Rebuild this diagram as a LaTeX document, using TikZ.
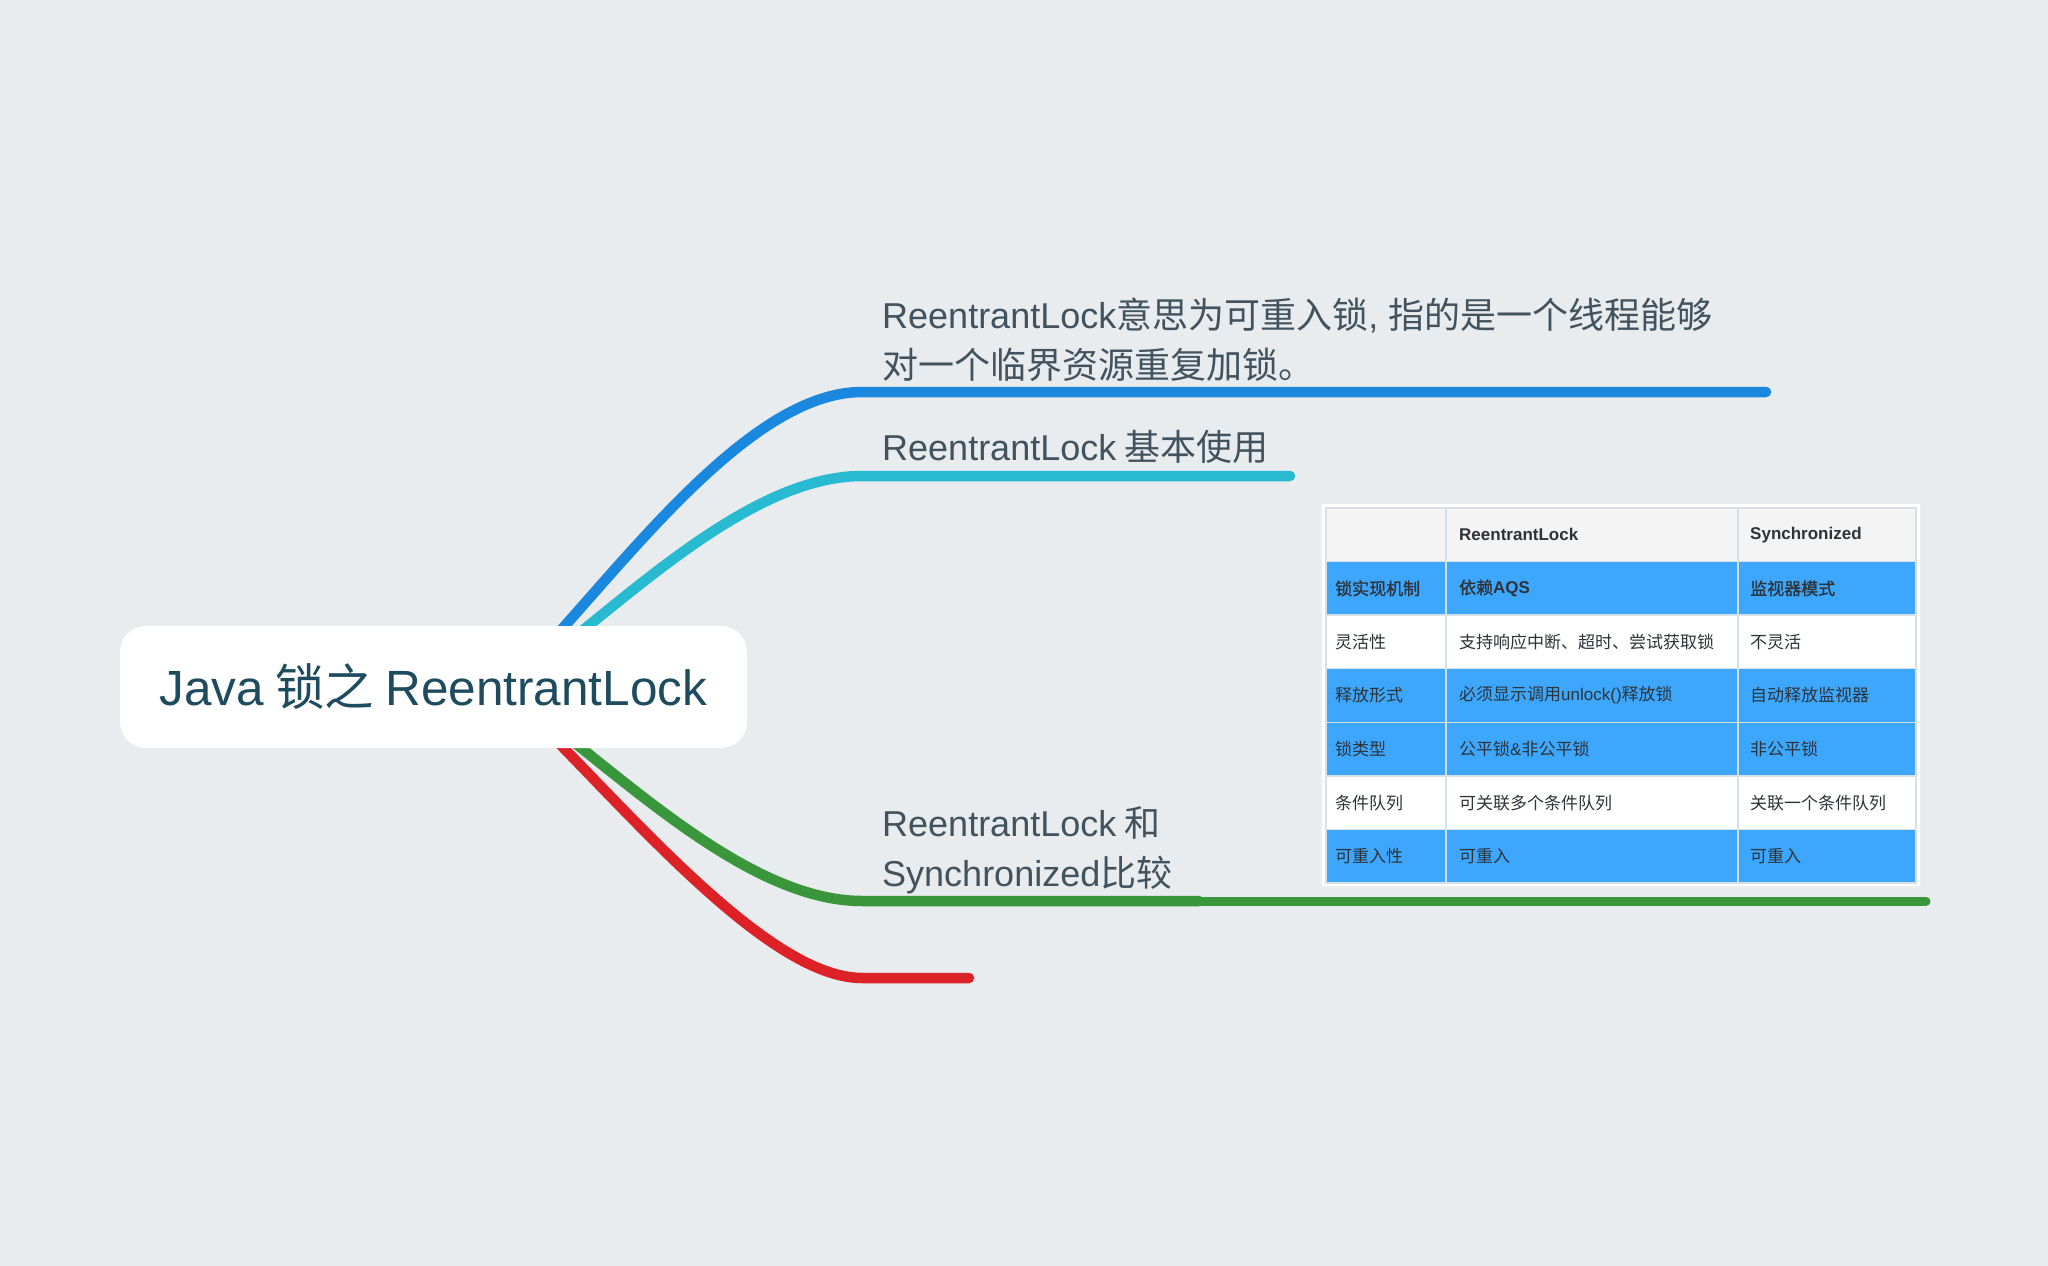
\documentclass[tikz,border=0pt]{standalone}
\usepackage{fontspec}
\setmainfont{Noto Sans CJK SC}
\newfontfamily\lat{Liberation Sans}
\newfontfamily\cjkb[FakeBold=1.2]{Noto Sans CJK SC}
\definecolor{bgc}{HTML}{E8ECEF}
\definecolor{cblue}{HTML}{1A88DE}
\definecolor{ccyan}{HTML}{27BAD1}
\definecolor{cgreen}{HTML}{3A963A}
\definecolor{cred}{HTML}{DC2127}
\definecolor{txtgray}{HTML}{42535F}
\definecolor{roottxt}{HTML}{1E4B5E}
\definecolor{tblue}{HTML}{3DA7FE}
\definecolor{hgray}{HTML}{F4F4F4}
\definecolor{gridc}{HTML}{D8E0E7}
\definecolor{celltxt}{HTML}{2E3338}
\begin{document}
\begin{tikzpicture}[x=1pt,y=-1pt,
  branch/.style={line width=10.5pt, line cap=round},
  btext/.style={anchor=west, inner sep=0pt, text=txtgray, font=\fontsize{36}{50}\selectfont, align=left},
  cell/.style={anchor=west, inner sep=0pt, text=celltxt, font=\fontsize{17}{20}\selectfont},
  bcell/.style={cell, font=\cjkb\fontsize{17}{20}\selectfont},
  hcell/.style={cell, font=\lat\bfseries\fontsize{17}{20}\selectfont},
  rootbox/.style={fill=white, rounded corners=26pt, minimum width=627pt, minimum height=122pt, inner sep=0pt, text=roottxt, font=\fontsize{49.5}{56}\selectfont}
]
\useasboundingbox (0,0) rectangle (2048,1266);
\fill[bgc] (0,0) rectangle (2048,1266);

% branch anchor points
\coordinate (o) at (505,690);
\coordinate (b1) at (862,392); \coordinate (b1e) at (1766,392);
\coordinate (b2) at (862,476); \coordinate (b2e) at (1290,476);
\coordinate (b3) at (862,901); \coordinate (b3m) at (1199,901); \coordinate (b3e) at (1926,901);
\coordinate (b4) at (862,978); \coordinate (b4e) at (969,978);

\draw[branch, cblue] (o) .. controls (605,592) and (740,392) .. (b1) -- (b1e);
\draw[branch, ccyan] (o) .. controls (605,622) and (740,476) .. (b2) -- (b2e);
\draw[branch, cgreen, line width=9pt] (b3m) -- (b3e);
\draw[branch, cgreen] (o) .. controls (605,758) and (740,901) .. (b3) -- (b3m);
\draw[branch, cred] (o) .. controls (605,782) and (760,978) .. (b4) -- (b4e);

% root
\node[rootbox] (root) at (433.5,687) {{\lat Java} 锁之 {\lat ReentrantLock}};

% branch texts
\node[btext] (t1) at (882,339.5) {{\lat ReentrantLock}意思为可重入锁{\lat , }指的是一个线程能够\\对一个临界资源重复加锁。};
\node[btext] (t2) at (882,447) {{\lat ReentrantLock} 基本使用};
\node[btext] (t3) at (882,850) {{\lat ReentrantLock} 和\\{\lat Synchronized}比较};

% table
\fill[black!7] (1320,503) rectangle (1922,888);
\fill[white] (1322,504) rectangle (1920,886);
\fill[hgray] (1326,508) rectangle (1916,561.5);
\fill[tblue] (1326,561.5) rectangle (1916,615);
\fill[white] (1326,615) rectangle (1916,668.5);
\fill[tblue] (1326,668.5) rectangle (1916,776);
\fill[white] (1326,776) rectangle (1916,829.5);
\fill[tblue] (1326,829.5) rectangle (1916,883);
\draw[gridc, line width=1.5pt] (1326,508) rectangle (1916,883);
\foreach \yy in {561.5,615,668.5,722.5,776,829.5} {\draw[gridc, line width=1.5pt] (1326,\yy) -- (1916,\yy);}
\foreach \xx in {1446,1738} {\draw[gridc, line width=1.5pt] (\xx,508) -- (\xx,883);}

\node[hcell] (h2) at (1459,534.8) {ReentrantLock};
\node[hcell] (h3) at (1750,534.8) {Synchronized};

\node[bcell] (a1) at (1335,588.4) {锁实现机制};
\node[bcell] (a2) at (1459,588.4) {依赖{\lat\bfseries AQS}};
\node[bcell] (a3) at (1750,588.4) {监视器模式};

\node[cell] (b1c) at (1335,642) {灵活性};
\node[cell] (b2c) at (1459,642) {支持响应中断、超时、尝试获取锁};
\node[cell] (b3c) at (1750,642) {不灵活};

\node[cell] (c1) at (1335,695.5) {释放形式};
\node[cell] (c2) at (1459,695.5) {必须显示调用{\lat unlock()}释放锁};
\node[cell] (c3) at (1750,695.5) {自动释放监视器};

\node[cell] (d1) at (1335,749.1) {锁类型};
\node[cell] (d2) at (1459,749.1) {公平锁{\lat\&}非公平锁};
\node[cell] (d3) at (1750,749.1) {非公平锁};

\node[cell] (e1) at (1335,802.7) {条件队列};
\node[cell] (e2) at (1459,802.7) {可关联多个条件队列};
\node[cell] (e3) at (1750,802.7) {关联一个条件队列};

\node[cell] (f1) at (1335,856.3) {可重入性};
\node[cell] (f2) at (1459,856.3) {可重入};
\node[cell] (f3) at (1750,856.3) {可重入};
\end{tikzpicture}
\end{document}
